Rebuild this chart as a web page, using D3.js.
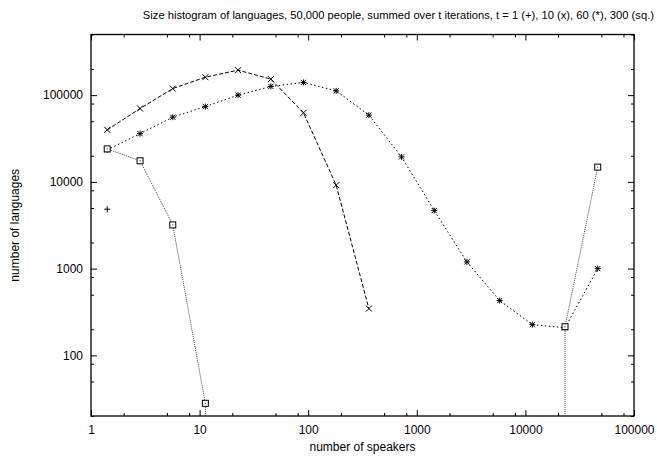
<!DOCTYPE html>
<html><head><meta charset="utf-8">
<script src="https://cdn.jsdelivr.net/npm/d3@7"></script>
<style>
body{margin:0;background:#fff;}
text{font-family:"Liberation Sans",Arial,sans-serif;fill:#000;}
</style></head>
<body><svg id="c" width="657" height="456"></svg>
<script>
const speakers = [1.41, 2.83, 5.66, 11.3, 22.6, 45.3, 90.5, 181, 362, 724, 1448, 2896, 5793, 11585, 23170, 46341];
const t1 = [4840, null, null, null, null, null, null, null, null, null, null, null, null, null, null, null];
const t10 = [39800, 70100, 119000, 161000, 194000, 153000, 62500, 9160, 346, null, null, null, null, null, null, null];
const t60 = [23400, 36000, 55700, 73900, 100000, 126000, 140000, 112000, 58800, 19400, 4670, 1195, 428, 226, 208, 1000];
const t300 = [24000, 17500, 3190, 28, 0, 0, 0, 0, 0, 0, 0, 0, 0, 0, 214, 14800];
const xTickValues = [1, 10, 100, 1000, 10000, 100000];
const yTickValues = [100, 1000, 10000, 100000];
const titleText = "Size histogram of languages, 50,000 people, summed over t iterations, t = 1 (+), 10 (x), 60 (*), 300 (sq.)";
const xLabel = "number of speakers";
const yLabel = "number of languages";

const L = 91, R = 634, T = 34.5, B = 416;
const svg = d3.select("#c");
const x = d3.scaleLog().domain([1, 100000]).range([L, R]);
const y = d3.scaleLog().domain([20, 500000]).range([B, T]);

// minor ticks at 2,5,8 of each decade
const minorX = [], minorY = [];
for (let e = 0; e < 5; e++) [2,5,8].forEach(m => minorX.push(m * Math.pow(10, e)));
for (let e = 1; e < 6; e++) [2,5,8].forEach(m => { const v = m * Math.pow(10, e); if (v >= 20 && v <= 500000) minorY.push(v); });

const g = svg.append("g");
function addAxis(axisGen, transform, showLabels) {
  const a = g.append("g").attr("transform", transform).call(axisGen);
  a.select(".domain").remove();
  a.selectAll("line").attr("stroke", "#000").attr("stroke-width", 1);
  if (!showLabels) a.selectAll("text").remove();
  else a.selectAll("text").attr("font-size", 12).attr("font-family", '"Liberation Sans",Arial,sans-serif');
  return a;
}
addAxis(d3.axisBottom(x).tickValues(xTickValues).tickSizeInner(-6).tickSizeOuter(0).tickPadding(9).tickFormat(d3.format("d")), `translate(0,${B})`, true);
addAxis(d3.axisBottom(x).tickValues(minorX).tickSizeInner(-3).tickSizeOuter(0).tickFormat(""), `translate(0,${B})`, false);
addAxis(d3.axisTop(x).tickValues(xTickValues).tickSizeInner(-6).tickSizeOuter(0), `translate(0,${T})`, false);
addAxis(d3.axisTop(x).tickValues(minorX).tickSizeInner(-3).tickSizeOuter(0), `translate(0,${T})`, false);
addAxis(d3.axisLeft(y).tickValues(yTickValues).tickSizeInner(-6).tickSizeOuter(0).tickPadding(8).tickFormat(d3.format("d")), `translate(${L},0)`, true);
addAxis(d3.axisLeft(y).tickValues(minorY).tickSizeInner(-3).tickSizeOuter(0), `translate(${L},0)`, false);
addAxis(d3.axisRight(y).tickValues(yTickValues).tickSizeInner(-6).tickSizeOuter(0), `translate(${R},0)`, false);
addAxis(d3.axisRight(y).tickValues(minorY).tickSizeInner(-3).tickSizeOuter(0), `translate(${R},0)`, false);

g.append("rect").attr("x", L).attr("y", T).attr("width", R - L).attr("height", B - T)
  .attr("fill", "none").attr("stroke", "#000").attr("stroke-width", 1.3);

svg.append("text").attr("x", 654).attr("y", 19).attr("text-anchor", "end").attr("font-size", 11.2).text(titleText);
svg.append("text").attr("x", (L + R) / 2).attr("y", 451).attr("text-anchor", "middle").attr("font-size", 12).text(xLabel);
svg.append("text").attr("transform", `translate(19,${(T + B) / 2}) rotate(-90)`).attr("text-anchor", "middle").attr("font-size", 12).text(yLabel);

const plot = svg.append("g");
// zeros drop vertically to the bottom edge, nulls end the line
function drawLine(vals, dash, color) {
  let segs = [], cur = [];
  vals.forEach((v, i) => {
    if (v === null) { if (cur.length) segs.push(cur); cur = []; return; }
    const px = x(speakers[i]);
    if (v === 0) {
      const prev = vals[i - 1];
      if (i > 0 && prev > 0) { cur.push([x(speakers[i - 1]), B]); segs.push(cur); cur = []; }
      return;
    }
    const prev = vals[i - 1];
    if (i > 0 && prev === 0) cur.push([px, B]);
    cur.push([px, y(v)]);
  });
  if (cur.length) segs.push(cur);
  segs.forEach(s => {
    if (s.length < 2) return;
    plot.append("path").attr("d", d3.line()(s)).attr("fill", "none")
      .attr("stroke", color).attr("stroke-width", 1).attr("stroke-dasharray", dash);
  });
}
drawLine(t10, "4,2", "#000");
drawLine(t60, "1.5,2.5", "#000");
drawLine(t300, "1,1", "#444");

function pts(vals) { return vals.map((v, i) => ({x: speakers[i], v})).filter(d => d.v > 0); }
function plus(gg, cx, cy, s) { gg.append("path").attr("d", `M${cx - s},${cy}H${cx + s}M${cx},${cy - s}V${cy + s}`).attr("stroke", "#000").attr("fill", "none"); }
function cross(gg, cx, cy, s) { gg.append("path").attr("d", `M${cx - s},${cy - s}L${cx + s},${cy + s}M${cx - s},${cy + s}L${cx + s},${cy - s}`).attr("stroke", "#000").attr("fill", "none"); }

pts(t1).forEach(d => plus(plot, x(d.x), y(d.v), 3));
pts(t10).forEach(d => cross(plot, x(d.x), y(d.v), 3));
pts(t60).forEach(d => { plus(plot, x(d.x), y(d.v), 3); cross(plot, x(d.x), y(d.v), 2.6); });
pts(t300).forEach(d => {
  const cx = x(d.x), cy = y(d.v);
  plot.append("rect").attr("x", cx - 3).attr("y", cy - 3).attr("width", 6).attr("height", 6)
    .attr("fill", "#fff").attr("stroke", "#000").attr("stroke-width", 1);
  plot.append("rect").attr("x", cx - 0.5).attr("y", cy - 0.5).attr("width", 1).attr("height", 1).attr("fill", "#000");
});
</script></body></html>
